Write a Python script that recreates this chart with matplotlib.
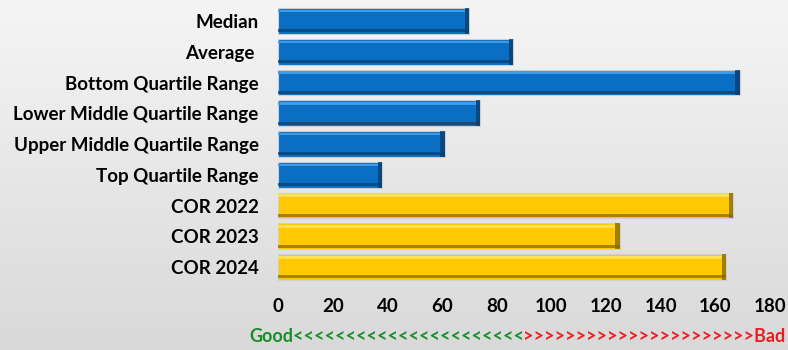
import numpy as np
import matplotlib.pyplot as plt
from matplotlib.colors import LinearSegmentedColormap

# Data
labels = ["Median", "Average ", "Bottom Quartile Range", "Lower Middle Quartile Range",
          "Upper Middle Quartile Range", "Top Quartile Range",
          "COR 2022", "COR 2023", "COR 2024"]
values = [70, 86, 169, 74, 61, 38, 166.5, 125, 164]
groups = ["bench"] * 6 + ["cor"] * 3
xticks = [0, 20, 40, 60, 80, 100, 120, 140, 160, 180]

colors = {"bench": ("#0a6fc2", "#3f9be6", "#073f73"),
          "cor": ("#ffc800", "#ffe04d", "#8a6a00")}

plt.rcParams['font.family'] = ['Lato', 'DejaVu Sans']

fig = plt.figure(figsize=(7.88, 3.5), dpi=100)

# gradient background
bg = fig.add_axes([0, 0, 1, 1])
grad = np.linspace(0, 1, 256).reshape(-1, 1)
cmap = LinearSegmentedColormap.from_list("bg", ["#f5f5f5", "#d9d9d9"])
bg.imshow(grad, aspect="auto", cmap=cmap, extent=[0, 1, 0, 1])
bg.axis("off")

ax = fig.add_axes([0.353, 0.193, 0.624, 0.791])
ax.patch.set_alpha(0)

y = np.arange(len(labels))
h = 0.84
main_c = [colors[g][0] for g in groups]
light_c = [colors[g][1] for g in groups]
dark_c = [colors[g][2] for g in groups]
v = np.array(values)

# main body
ax.barh(y, v, height=h, color=main_c, edgecolor="#cfcfcf", linewidth=0.8, zorder=2)
# bevel: dark bottom and right edge, light top
ax.barh(y + h * 0.38, v, height=h * 0.12, color=dark_c, alpha=0.75, zorder=3)
ax.barh(y, v * 0 + 1.6, left=v - 1.6, height=h, color=dark_c, alpha=0.8, zorder=3)
ax.barh(y - h * 0.38, v - 1.6, height=h * 0.1, color=light_c, zorder=3)

ax.set_xlim(0, 180)
ax.set_ylim(len(labels) - 0.5, -0.5)
ax.set_yticks(y)
ax.set_yticklabels(labels, fontsize=13.5, fontweight="bold")
ax.set_xticks(xticks)
ax.set_xticklabels([str(t) for t in xticks], fontsize=13.5, fontweight="bold")
ax.tick_params(length=0, pad=14, axis="y")
ax.tick_params(length=0, pad=11, axis="x")
for s in ax.spines.values():
    s.set_visible(False)

# good / bad scale
fig.text(0.317, 0.024, "Good" + "<" * 22, color="#1a8c2a", fontsize=13,
         fontweight="bold", ha="left")
fig.text(0.997, 0.024, ">" * 22 + "Bad", color="#ec1c24", fontsize=13,
         fontweight="bold", ha="right")

fig.savefig("out.png", dpi=100)
